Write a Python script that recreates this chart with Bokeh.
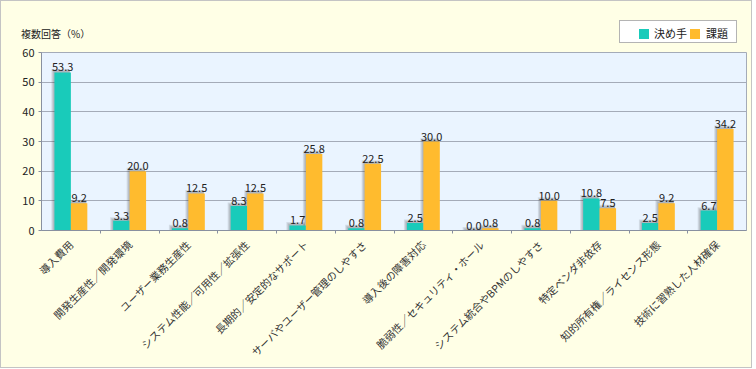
import numpy as np
from bokeh.plotting import figure
from bokeh.layouts import column
from bokeh.models import Range1d, FixedTicker, ColumnDataSource, Div
from bokeh.core.properties import value
from bokeh.embed import file_html
from bokeh.resources import INLINE

categories = [
    "導入費用",
    "開発生産性／開発環境",
    "ユーザー業務生産性",
    "システム性能／可用性／拡張性",
    "長期的／安定的なサポート",
    "サーバやユーザー管理のしやすさ",
    "導入後の障害対応",
    "脆弱性／セキュリティ・ホール",
    "システム統合やBPMのしやすさ",
    "特定ベンダ非依存",
    "知的所有権／ライセンス形態",
    "技術に習熟した人材確保",
]
kimete = [53.3, 3.3, 0.8, 8.3, 1.7, 0.8, 2.5, 0.0, 0.8, 10.8, 2.5, 6.7]
kadai = [9.2, 20.0, 12.5, 12.5, 25.8, 22.5, 30.0, 0.8, 10.0, 7.5, 9.2, 34.2]
series_names = ["決め手", "課題"]
y_ticks = [0, 10, 20, 30, 40, 50, 60]
y_title = "複数回答（%）"

FONT = "Noto Sans CJK JP"
TEAL = "#19CBBA"
ORANGE = "#FFBB2E"
GRID = "#A4ABB8"
AXIS = "#8890A0"
BG_OUT = "#FFFFE6"
BG_IN = "#EAF4FF"

n = len(categories)
centers = np.arange(n) + 0.5
bw = 0.28
off = 0.14
PX = 1.0 / 58.75          # one pixel in x data units
PY = 60.0 / 179.0         # one pixel in y data units

W, H_HEAD, H_MAIN = 750, 44, 322

# ---------------- header: caption + legend ----------------
sq = "position:absolute;top:8px;width:10px;height:10px;"
lab = "position:absolute;top:5px;font-size:11px;line-height:15px;white-space:nowrap;"
header_html = (
    f'<div style="position:relative;width:{W}px;height:{H_HEAD}px;background:{BG_OUT};'
    f"font-family:'{FONT}';color:#222222;\">"
    f'<span style="position:absolute;left:20px;top:27px;font-size:10px;line-height:12px;'
    f'white-space:nowrap;">{y_title}</span>'
    f'<div style="position:absolute;left:618px;top:19px;width:118px;height:23px;'
    f'background:#FFFFFF;border:1px solid #B4B4B4;">'
    f'<span style="{sq}left:19px;background:{TEAL};"></span>'
    f'<span style="{lab}left:34px;">{series_names[0]}</span>'
    f'<span style="{sq}left:70px;background:{ORANGE};"></span>'
    f'<span style="{lab}left:86px;">{series_names[1]}</span>'
    f'</div></div>'
)
head = Div(text=header_html, width=W, height=H_HEAD, margin=0)

# ---------------- main chart ----------------
src = ColumnDataSource(dict(
    xa=centers - off, xb=centers + off,
    a=kimete, b=kadai,
    la=["%.1f" % v for v in kimete], lb=["%.1f" % v for v in kadai],
))

p = figure(width=W, height=H_MAIN, x_range=Range1d(0, n), y_range=Range1d(0, 60),
           output_backend="svg", toolbar_location=None,
           min_border_left=40, min_border_right=5, min_border_top=7, min_border_bottom=136,
           background_fill_color=BG_IN, border_fill_color=BG_OUT,
           outline_line_color=GRID, margin=0)

# soft drop shadows (layered, growing to the upper-left)
for k in (3, 2, 1):
    for xc, vals in ((centers - off, kimete), (centers + off, kadai)):
        left = xc - bw / 2 - k * PX
        right = xc + bw / 2 - PX
        p.vbar(x=(left + right) / 2, top=np.array(vals) + (k + 0.5) * PY,
               width=right - left, bottom=0, fill_color="#3A3A3A",
               fill_alpha=0.13, line_color=None)

ra = p.vbar(x="xa", top="a", width=bw, source=src, fill_color=TEAL, line_color=None)
rb = p.vbar(x="xb", top="b", width=bw, source=src, fill_color=ORANGE, line_color=None)

for xc, yc, lc in (("xa", "a", "la"), ("xb", "b", "lb")):
    p.text(x=xc, y=yc, text=lc, source=src, text_align="center",
           text_baseline="alphabetic", y_offset=-5,
           text_font=value(FONT), text_font_size="11px", text_color="#222222")

p.xaxis.ticker = FixedTicker(ticks=list(centers), minor_ticks=list(range(1, n)))
p.xaxis.major_label_overrides = {float(c): cat for c, cat in zip(centers, categories)}
p.xaxis.major_label_orientation = np.pi / 4
p.xaxis.major_tick_line_color = None
p.xaxis.major_tick_out = 0
p.xaxis.major_tick_in = 0
p.xaxis.minor_tick_out = 3
p.xaxis.minor_tick_in = 0
p.xaxis.minor_tick_line_color = AXIS
p.xaxis.axis_line_color = AXIS
p.xaxis.major_label_standoff = 9
p.xaxis.major_label_text_font = FONT
p.xaxis.major_label_text_font_size = "10.5px"
p.xaxis.major_label_text_color = "#333333"

p.yaxis.ticker = FixedTicker(ticks=y_ticks)
p.yaxis.axis_line_color = AXIS
p.yaxis.major_tick_out = 3
p.yaxis.major_tick_in = 0
p.yaxis.major_tick_line_color = AXIS
p.yaxis.minor_tick_line_color = None
p.yaxis.major_label_standoff = 4
p.yaxis.major_label_text_font = FONT
p.yaxis.major_label_text_font_size = "11px"
p.yaxis.major_label_text_color = "#222222"

p.xgrid.grid_line_color = None
p.ygrid.grid_line_color = GRID
p.ygrid.ticker = FixedTicker(ticks=y_ticks)

page = column(head, p, spacing=0,
              styles={"position": "absolute", "left": "0px", "top": "0px",
                      "border": "1px solid #C4C4C4", "background-color": BG_OUT})

open("out.html", "w").write(file_html(page, INLINE))
